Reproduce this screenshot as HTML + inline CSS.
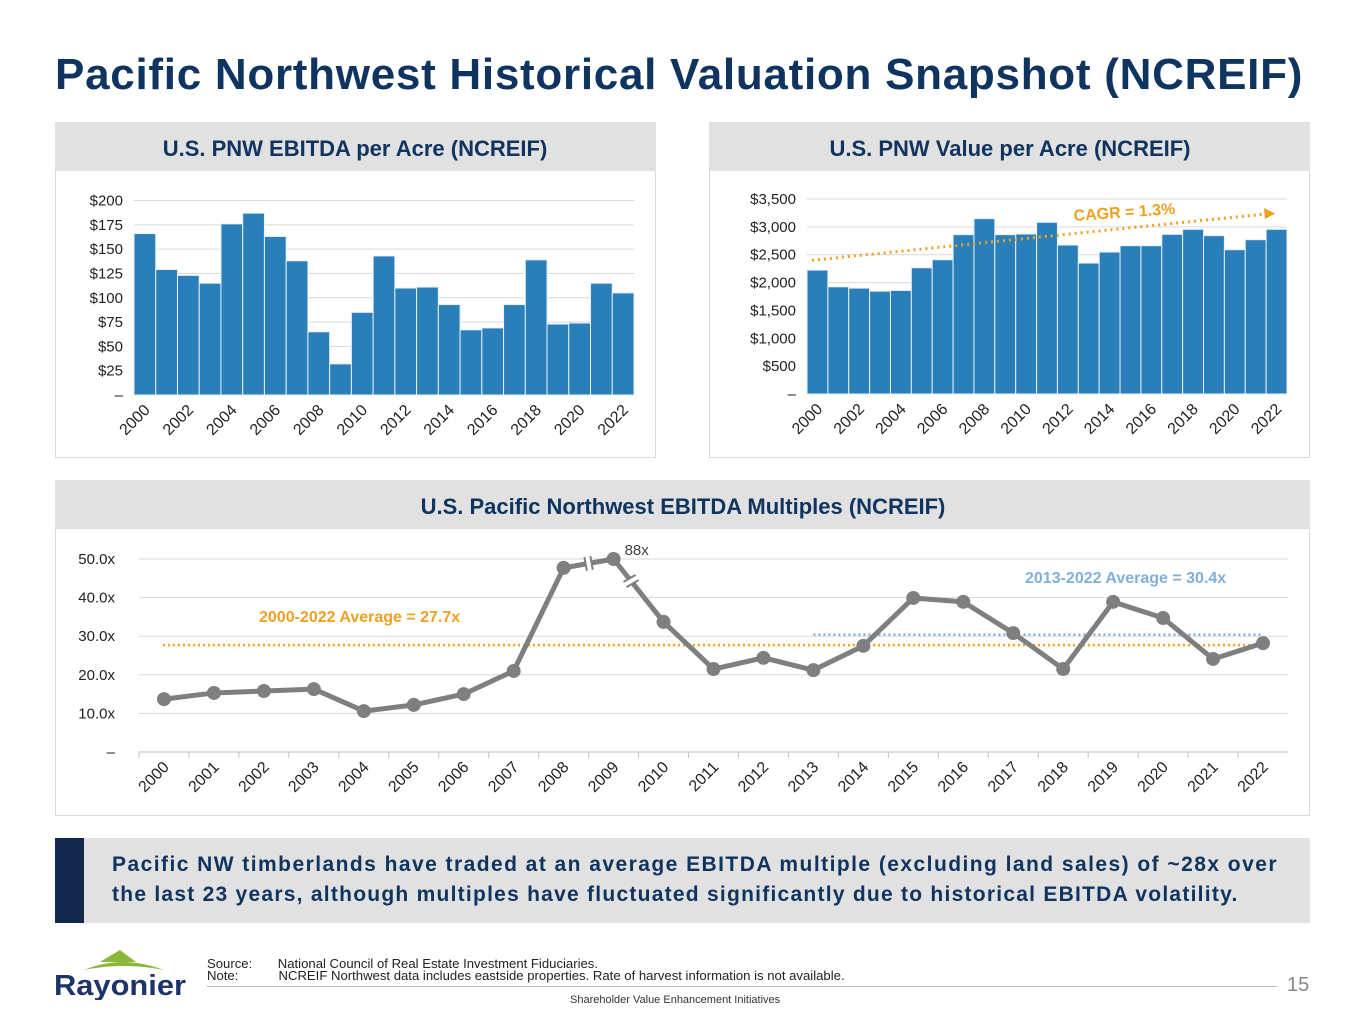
<!DOCTYPE html>
<html><head><meta charset="utf-8"><style>
body{margin:0;width:1365px;height:1024px;background:#fff;font-family:"Liberation Sans",sans-serif;overflow:hidden;position:relative}
.abs{position:absolute}
</style></head><body>
<div class="abs" style="left:55px;top:50px;font-size:44px;font-weight:bold;color:#0f3460;letter-spacing:0.72px;white-space:nowrap">Pacific Northwest Historical Valuation Snapshot (NCREIF)</div>
<svg class="abs" style="left:0;top:0" width="1365" height="1024" id="charts" font-family="Liberation Sans, sans-serif">
  <g>
    <rect x="55.5" y="122.5" width="600" height="335" fill="#fff" stroke="#d9d9d9"/>
    <rect x="55" y="122" width="601" height="49" fill="#e1e1e1"/>
    <text x="355" y="156" text-anchor="middle" font-size="22" font-weight="bold" fill="#0f3460">U.S. PNW EBITDA per Acre (NCREIF)</text>
  </g>
  <g>
    <rect x="709.5" y="122.5" width="600" height="335" fill="#fff" stroke="#d9d9d9"/>
    <rect x="709" y="122" width="601" height="49" fill="#e1e1e1"/>
    <text x="1010" y="156" text-anchor="middle" font-size="22" font-weight="bold" fill="#0f3460">U.S. PNW Value per Acre (NCREIF)</text>
  </g>
  <g>
    <rect x="55.5" y="480.5" width="1254" height="335" fill="#fff" stroke="#d9d9d9"/>
    <rect x="55" y="480" width="1255" height="49" fill="#e1e1e1"/>
    <text x="683" y="514" text-anchor="middle" font-size="22" font-weight="bold" fill="#0f3460">U.S. Pacific Northwest EBITDA Multiples (NCREIF)</text>
  </g>
  <g id="g1"></g><g id="g2"></g><g id="g3"></g>
</svg>
<div class="abs" style="left:55px;top:838px;width:1255px;height:85px;background:#e1e1e1"></div>
<div class="abs" style="left:55px;top:838px;width:29px;height:85px;background:#14284b"></div>
<div class="abs" style="left:112px;top:850px;width:1190px;font-size:21px;font-weight:bold;color:#0f3460;line-height:30px;white-space:nowrap"><span style="letter-spacing:1.45px">Pacific NW timberlands have traded at an average EBITDA multiple (excluding land sales) of ~28x over</span><br><span style="letter-spacing:1.25px">the last 23 years, although multiples have fluctuated significantly due to historical EBITDA volatility.</span></div>
<svg class="abs" style="left:52px;top:948px" width="140" height="52">
  <path d="M48 14 L68 2 L84 14 Z" fill="#8bb73b"/>
  <path d="M32 22 Q70 6 112 22 Q70 14 32 22Z" fill="#8bb73b"/>
  <text x="2" y="47" font-size="29" font-weight="bold" fill="#1d3566" font-family="Liberation Sans, sans-serif" textLength="132" lengthAdjust="spacingAndGlyphs">Rayonier</text>
</svg>
<div class="abs" style="left:207px;top:958px;font-size:12.5px;color:#222;line-height:12px;transform:scaleX(1.05);transform-origin:left top;white-space:nowrap">Source:&nbsp;&nbsp;&nbsp;&nbsp;&nbsp;&nbsp;&nbsp;National Council of Real Estate Investment Fiduciaries.<br>Note:&nbsp;&nbsp;&nbsp;&nbsp;&nbsp;&nbsp;&nbsp;&nbsp;&nbsp;&nbsp;&nbsp;NCREIF Northwest data includes eastside properties. Rate of harvest information is not available.</div>
<div class="abs" style="left:207px;top:986px;width:1070px;height:1px;background:#bbb"></div>
<div class="abs" style="left:570px;top:994px;font-size:11px;color:#333">Shareholder Value Enhancement Initiatives</div>
<div class="abs" style="left:1287px;top:974px;font-size:20px;color:#888">15</div>
<script>
const years = [2000,2001,2002,2003,2004,2005,2006,2007,2008,2009,2010,2011,2012,2013,2014,2015,2016,2017,2018,2019,2020,2021,2022];
const ebitdaValues = [166,129,123,115,176,187,163,138,65,32,85,143,110,111,93,67,69,93,139,73,74,115,105];
const ebitdaTicks = [0,25,50,75,100,125,150,175,200];
const valueValues = [2224,1924,1900,1846,1858,2266,2410,2860,3147,2860,2872,3082,2674,2350,2548,2662,2662,2866,2956,2842,2590,2770,2956];
const valueTicks = [0,500,1000,1500,2000,2500,3000,3500];
const multipleValues = [13.7,15.3,15.8,16.3,10.6,12.2,15.0,21.0,47.7,50.0,33.7,21.5,24.4,21.2,27.5,39.9,38.9,30.8,21.5,38.9,34.7,24.1,28.2];
const multipleTicks = [0,10,20,30,40,50];
const avgAll = 27.7, avgRecent = 30.4;
const NS='http://www.w3.org/2000/svg';
function mk(parent,tag,attrs,txt){const e=document.createElementNS(NS,tag);for(const k in attrs)e.setAttribute(k,attrs[k]);if(txt!==undefined)e.textContent=txt;parent.appendChild(e);return e;}

function barChart(g,vals,ticks,x0,x1,yTop,yBase,maxV,fmt,name){
  const y=v=>yBase-(v/maxV)*(yBase-yTop);
  const bw=(x1-x0)/vals.length;
  ticks.forEach(t=>{
    if(t>0){const l=mk(g,'line',{x1:x0,x2:x1,y1:y(t),y2:y(t),stroke:'#d9d9d9','stroke-width':1});
    
    }
    const tx=mk(g,'text',{x:x0-11,y:y(t)+5,'text-anchor':'end','font-size':15,fill:'#222'},t===0?'–':fmt(t));
    
    
  });
  vals.forEach((v,i)=>{
    const r=mk(g,'rect',{x:x0+i*bw,y:y(v),width:bw,height:yBase-y(v),fill:'#2a7fba',stroke:'#e8f0f8','stroke-width':1});
    
    
    if(i%2===0){const cx=x0+(i+0.5)*bw+6, cy=yBase+16;
      const t=mk(g,'text',{x:cx,y:cy,'text-anchor':'end','font-size':16,fill:'#222',transform:`rotate(-45 ${cx} ${cy})`},years[i]);
      
      }
  });
  return y;
}
const g1=document.getElementById('g1');
barChart(g1,ebitdaValues,ebitdaTicks,134,634,200.5,395,200,t=>'$'+t,'ebitda');
const g2=document.getElementById('g2');
const yv=barChart(g2,valueValues,valueTicks,807,1287,199,394,3500,t=>'$'+t.toLocaleString('en-US'),'value');
const tr=mk(g2,'line',{x1:812,y1:yv(2400),x2:1265,y2:yv(3230),stroke:'#f0a020','stroke-width':3,'stroke-dasharray':'2 4'});


const ar=mk(g2,'polygon',{points:`1275,${yv(3230)-0.5} 1264,${yv(3230)-6} 1265,${yv(3230)+5}`,fill:'#f0a020'});


const ct=mk(g2,'text',{x:1074,y:221,'font-size':16,'font-weight':'bold',fill:'#f0a020',transform:'rotate(-4 1074 221)'},'CAGR = 1.3%');



const g3=document.getElementById('g3');
const lx0=139,lx1=1288,lyTop=559,lyBase=752;
const ly=v=>lyBase-(v/50)*(lyBase-lyTop);
const step=(lx1-lx0)/years.length;
const lx=i=>lx0+(i+0.5)*step;
multipleTicks.forEach(t=>{
  const l=mk(g3,'line',{x1:lx0,x2:lx1,y1:ly(t),y2:ly(t),stroke:t===0?'#bfbfbf':'#d9d9d9','stroke-width':1});
  
  
  const tx=mk(g3,'text',{x:lx0-24,y:ly(t)+5,'text-anchor':'end','font-size':15,fill:'#222'},t===0?'–':t.toFixed(1)+'x');
  
  
});
years.forEach((yr,i)=>{
  const tk=mk(g3,'line',{x1:lx0+i*step,x2:lx0+i*step,y1:lyBase,y2:lyBase+6,stroke:'#bfbfbf'});
  
  
  const cx=lx(i)+6, cy=lyBase+16;
  const t=mk(g3,'text',{x:cx,y:cy,'text-anchor':'end','font-size':16,fill:'#222',transform:`rotate(-45 ${cx} ${cy})`},yr);
  
  
});
const a1=mk(g3,'line',{x1:lx(0)-1,x2:lx(22),y1:ly(avgAll),y2:ly(avgAll),stroke:'#f0a020','stroke-width':2.5,'stroke-dasharray':'2 3'});


const a2=mk(g3,'line',{x1:lx(13),x2:lx(22),y1:ly(avgRecent),y2:ly(avgRecent),stroke:'#7fb0da','stroke-width':2.5,'stroke-dasharray':'2 3'});


const pl=mk(g3,'polyline',{points:multipleValues.map((v,i)=>lx(i)+','+ly(v)).join(' '),fill:'none',stroke:'#7f7f7f','stroke-width':5,'stroke-linejoin':'round'});


multipleValues.forEach((v,i)=>{
  const c=mk(g3,'circle',{cx:lx(i),cy:ly(v),r:7,fill:'#7f7f7f'});
  
  
});
[[(lx(8)+lx(9))/2,(ly(multipleValues[8])+ly(multipleValues[9]))/2,80],[(lx(9)*0.65+lx(10)*0.35),ly(multipleValues[9])*0.65+ly(multipleValues[10])*0.35,-30]].forEach(([bx,by,rot])=>{
  const b=mk(g3,'g',{transform:`translate(${bx} ${by}) rotate(${rot})`});
  
  
  mk(b,'rect',{x:-6,y:-3,width:12,height:6,fill:'#fff'});
  mk(b,'line',{x1:-7,y1:-3,x2:7,y2:-3,stroke:'#7f7f7f','stroke-width':2});
  mk(b,'line',{x1:-7,y1:3,x2:7,y2:3,stroke:'#7f7f7f','stroke-width':2});
});
const l88=mk(g3,'text',{x:lx(9)+11,y:ly(multipleValues[9])-4,'font-size':15,fill:'#444'},'88x');


const t1=mk(g3,'text',{x:259,y:622,'font-size':16,'font-weight':'bold',fill:'#f0a020'},'2000-2022 Average = 27.7x');


const t2=mk(g3,'text',{x:1025,y:583,'font-size':16,'font-weight':'bold',fill:'#7fb0da'},'2013-2022 Average = 30.4x');


</script>
</body></html>
